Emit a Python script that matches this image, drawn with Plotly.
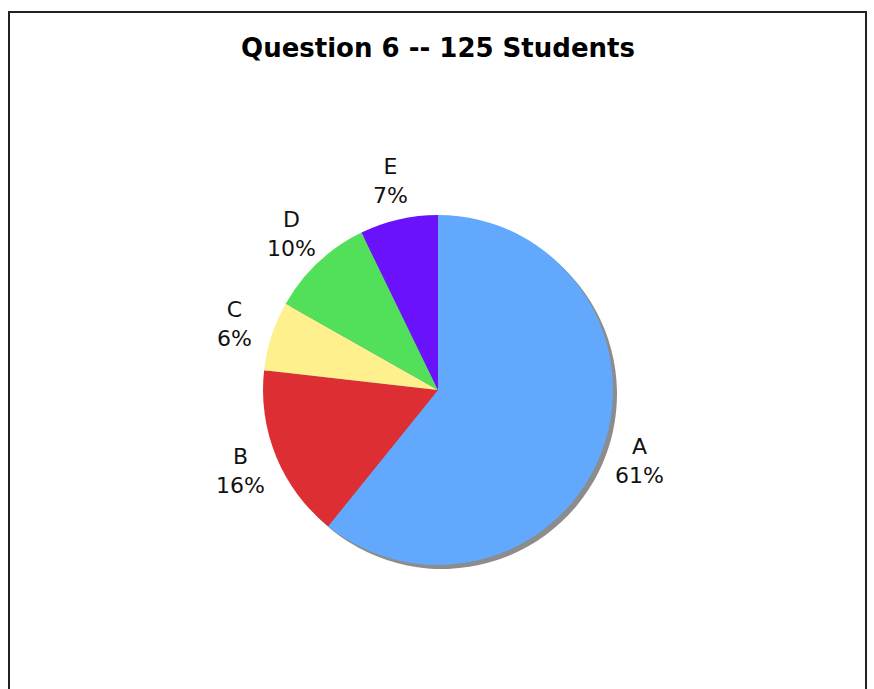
import math
import plotly.graph_objects as go

categories = ["A", "B", "C", "D", "E"]
counts = [76, 20, 8, 12, 9]
colors = ["#62A8FC", "#DD2E34", "#FDF08D", "#52E05A", "#6B12FC"]
title_text = "Question 6 -- 125 Students"

W, H = 874, 689
cx, cy, R = 438, 390, 175
shadow_off = 4
label_r = 214

def px_x(x):
    return x / W

def px_y(y):
    return 1 - y / H

fig = go.Figure()

# shadow pie
fig.add_trace(go.Pie(
    values=counts, labels=categories, sort=False, direction="clockwise", rotation=0,
    marker=dict(colors=["#8c8c8c"] * len(counts), line=dict(width=0)),
    textinfo="none", hoverinfo="skip", showlegend=False,
    domain=dict(x=[px_x(cx - R + shadow_off), px_x(cx + R + shadow_off)],
                y=[px_y(cy + R + shadow_off), px_y(cy - R + shadow_off)]),
))

fig.add_trace(go.Pie(
    values=counts, labels=categories, sort=False, direction="clockwise", rotation=0,
    marker=dict(colors=colors, line=dict(width=0)),
    textinfo="none", showlegend=False,
    domain=dict(x=[px_x(cx - R), px_x(cx + R)], y=[px_y(cy + R), px_y(cy - R)]),
))

total = sum(counts)
cum = 0
for cat, v in zip(categories, counts):
    mid = (cum + v / 2) / total * 2 * math.pi
    cum += v
    lx = cx + label_r * math.sin(mid)
    ly = cy - label_r * math.cos(mid)
    pct = round(100 * v / total)
    fig.add_annotation(
        x=px_x(lx), y=px_y(ly), xref="paper", yref="paper",
        text=f"{cat}<br>{pct}%", showarrow=False, xanchor="center", yanchor="middle",
        font=dict(family="DejaVu Sans", size=22, color="#111111"),
    )

fig.add_shape(type="rect", xref="paper", yref="paper",
              x0=px_x(9), x1=px_x(866), y0=px_y(H + 20), y1=px_y(12),
              line=dict(color="#222222", width=2))

fig.update_layout(
    width=W, height=H, margin=dict(l=0, r=0, t=0, b=0),
    paper_bgcolor="white", plot_bgcolor="white",
    title=dict(text=f"<b>{title_text}</b>", x=px_x(438), xanchor="center",
               y=px_y(48), yanchor="middle",
               font=dict(family="DejaVu Sans", size=26, color="#000000")),
)

fig.write_html("out.html", config={"displayModeBar": False},
               post_script="document.body.style.margin='0px';document.body.style.overflow='hidden';")
